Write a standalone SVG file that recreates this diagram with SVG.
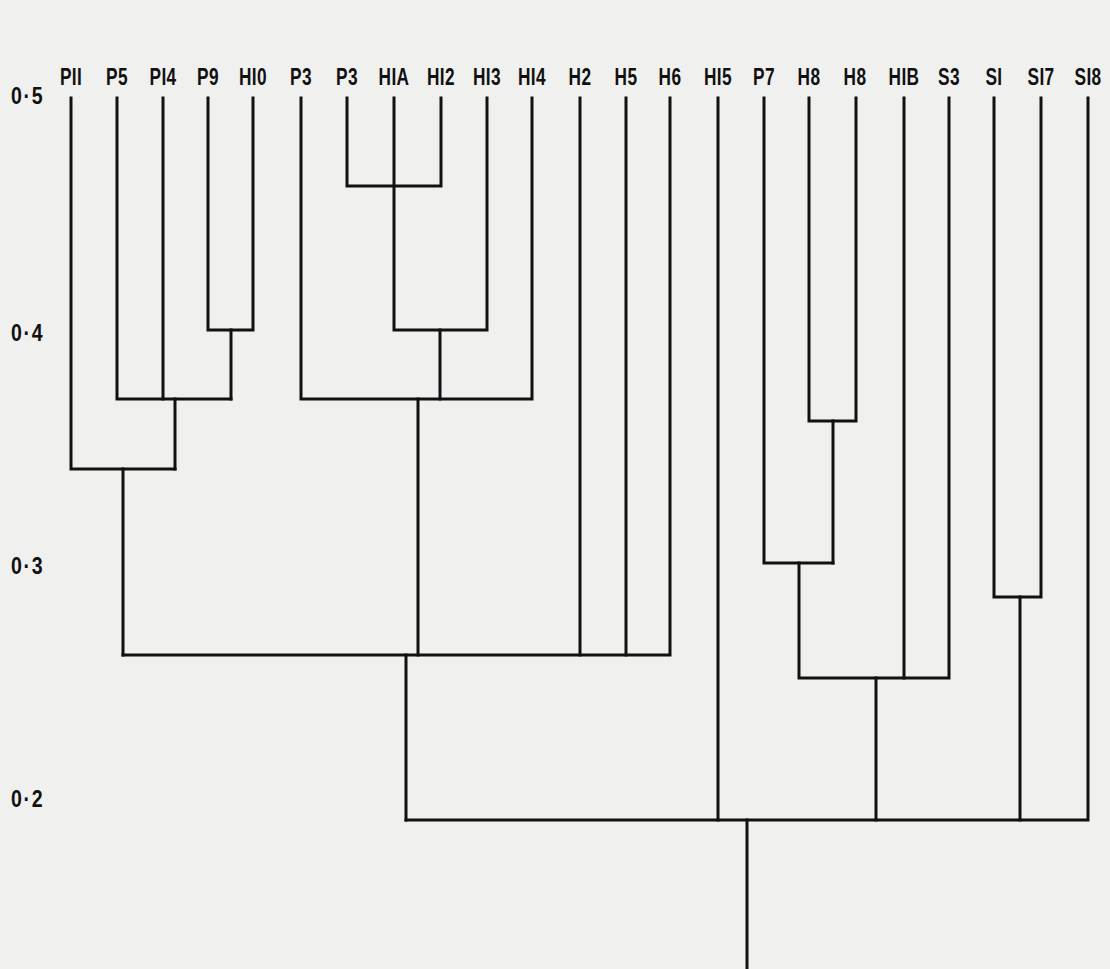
<svg xmlns="http://www.w3.org/2000/svg" width="1110" height="969" viewBox="0 0 1110 969">
<style>
.bg{fill:#f0f0ef}
.ln{fill:none;stroke:#111;stroke-width:3;stroke-linejoin:miter;stroke-linecap:square}
.lbl{font-family:"Liberation Sans",Arial,sans-serif;font-weight:bold;font-size:24px;fill:#111;text-anchor:middle;letter-spacing:0.5px}
.ax{font-family:"Liberation Sans",Arial,sans-serif;font-weight:bold;font-size:23px;fill:#111;letter-spacing:2px}
</style>
<rect class="bg" x="0" y="0" width="1110" height="969"/>
<g id="axis">
<text class="ax" transform="translate(11 104) scale(0.85 1)">0·5</text>
<text class="ax" transform="translate(11 341) scale(0.85 1)">0·4</text>
<text class="ax" transform="translate(11 574) scale(0.85 1)">0·3</text>
<text class="ax" transform="translate(11 807) scale(0.85 1)">0·2</text>
</g>
<g id="leaves">
<g id="leaf-PII"><text class="lbl" transform="translate(71 85) scale(0.72 1)">PII</text></g>
<g id="leaf-P5"><text class="lbl" transform="translate(117 85) scale(0.72 1)">P5</text></g>
<g id="leaf-PI4"><text class="lbl" transform="translate(163 85) scale(0.72 1)">PI4</text></g>
<g id="leaf-P9"><text class="lbl" transform="translate(208 85) scale(0.72 1)">P9</text></g>
<g id="leaf-HI0"><text class="lbl" transform="translate(253 85) scale(0.72 1)">HI0</text></g>
<g id="leaf-P3a"><text class="lbl" transform="translate(301 85) scale(0.72 1)">P3</text></g>
<g id="leaf-P3b"><text class="lbl" transform="translate(347 85) scale(0.72 1)">P3</text></g>
<g id="leaf-HIA"><text class="lbl" transform="translate(394 85) scale(0.72 1)">HIA</text></g>
<g id="leaf-HI2"><text class="lbl" transform="translate(441 85) scale(0.72 1)">HI2</text></g>
<g id="leaf-HI3"><text class="lbl" transform="translate(487 85) scale(0.72 1)">HI3</text></g>
<g id="leaf-HI4"><text class="lbl" transform="translate(532 85) scale(0.72 1)">HI4</text></g>
<g id="leaf-H2"><text class="lbl" transform="translate(580 85) scale(0.72 1)">H2</text></g>
<g id="leaf-H5"><text class="lbl" transform="translate(626 85) scale(0.72 1)">H5</text></g>
<g id="leaf-H6"><text class="lbl" transform="translate(670 85) scale(0.72 1)">H6</text></g>
<g id="leaf-HI5"><text class="lbl" transform="translate(718 85) scale(0.72 1)">HI5</text></g>
<g id="leaf-P7"><text class="lbl" transform="translate(764 85) scale(0.72 1)">P7</text></g>
<g id="leaf-H8a"><text class="lbl" transform="translate(809 85) scale(0.72 1)">H8</text></g>
<g id="leaf-H8b"><text class="lbl" transform="translate(855 85) scale(0.72 1)">H8</text></g>
<g id="leaf-HIB"><text class="lbl" transform="translate(904 85) scale(0.72 1)">HIB</text></g>
<g id="leaf-S3"><text class="lbl" transform="translate(949 85) scale(0.72 1)">S3</text></g>
<g id="leaf-SI"><text class="lbl" transform="translate(994 85) scale(0.72 1)">SI</text></g>
<g id="leaf-SI7"><text class="lbl" transform="translate(1041 85) scale(0.72 1)">SI7</text></g>
<g id="leaf-SI8"><text class="lbl" transform="translate(1088 85) scale(0.72 1)">SI8</text></g>
</g>
<g id="connectors">
<path class="ln" d="M208,98 V330 H253 V98"/>
<path class="ln" d="M231,330 V399"/>
<path class="ln" d="M117,98 V399 H231"/>
<path class="ln" d="M163,98 V399"/>
<path class="ln" d="M175,399 V469"/>
<path class="ln" d="M71,98 V469 H175"/>
<path class="ln" d="M123,469 V655"/>
<path class="ln" d="M347,98 V186 H441 V98"/>
<path class="ln" d="M394,98 V330 H487 V98"/>
<path class="ln" d="M440,330 V399"/>
<path class="ln" d="M301,98 V399 H532 V98"/>
<path class="ln" d="M418,399 V655"/>
<path class="ln" d="M123,655 H670 V98"/>
<path class="ln" d="M580,98 V655"/>
<path class="ln" d="M626,98 V655"/>
<path class="ln" d="M406,655 V820"/>
<path class="ln" d="M809,98 V421 H856 V98"/>
<path class="ln" d="M833,421 V563"/>
<path class="ln" d="M764,98 V563 H833"/>
<path class="ln" d="M799,563 V678 H949 V98"/>
<path class="ln" d="M904,98 V678"/>
<path class="ln" d="M876,678 V820"/>
<path class="ln" d="M994,98 V597 H1041 V98"/>
<path class="ln" d="M1020,597 V820"/>
<path class="ln" d="M718,98 V820"/>
<path class="ln" d="M406,820 H1088 V98"/>
<path class="ln" d="M747,820 V969"/>
</g>
</svg>
